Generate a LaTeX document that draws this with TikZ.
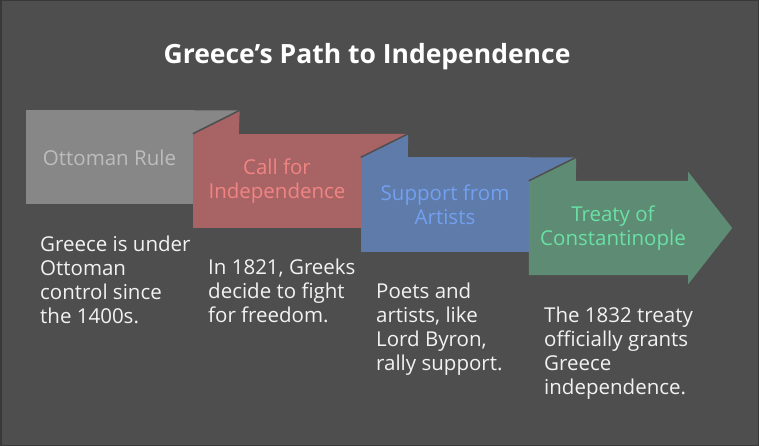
\documentclass[tikz,border=0pt]{standalone}
\usepackage{fontspec}
\setmainfont{Open Sans}
\usetikzlibrary{calc,backgrounds}

\definecolor{bgcol}{HTML}{4E4E4E}
\definecolor{edgecol}{HTML}{383838}
\definecolor{grayfill}{HTML}{878787}
\definecolor{graytext}{HTML}{BDBDBD}
\definecolor{redfill}{HTML}{A86464}
\definecolor{redtext}{HTML}{F08484}
\definecolor{bluefill}{HTML}{5F7BA9}
\definecolor{bluetext}{HTML}{72A0F0}
\definecolor{greenfill}{HTML}{5E8B73}
\definecolor{greentext}{HTML}{6AE0A6}
\definecolor{desctext}{HTML}{F2F2F2}

\begin{document}
\begin{tikzpicture}[x=1pt,y=-1pt,
	stepbox/.style={rectangle, minimum width=168pt, minimum height=94pt, inner sep=0pt, align=center, font=\fontsize{20.5}{24}\selectfont},
	desc/.style={anchor=north west, inner sep=0pt, align=left, text=desctext, font=\fontsize{20.5}{24}\selectfont}]
	\begin{pgfonlayer}{background}
		\fill[bgcol] (0,0) rectangle (759,446);
		\draw[edgecol, line width=1.5pt] (0.75,0.75) rectangle (758.25,445.25);
	\end{pgfonlayer}
	\useasboundingbox (0,0) rectangle (759,446);

	\node (title) at (367,57) [text=white, font=\bfseries\fontsize{26.5}{30}\selectfont] {Greece's Path to Independence};

	% steps
	\node (ottoman) at (109.5,157.5) [stepbox, fill=grayfill, text=graytext] {Ottoman Rule};
	\node (call) at (277,181) [stepbox, fill=redfill, text=redtext] {Call for\\Independence};
	\node (artists) at (445,204.5) [stepbox, fill=bluefill, text=bluetext] {Support from\\Artists};
	\node (treaty) at (613,228) [stepbox, text=greentext] {Treaty of\\Constantinople};
	\begin{pgfonlayer}{background}
		\fill[greenfill] (treaty.north west) -- ($(treaty.north east)+(-9,0)$) -- ($(treaty.north east)+(-9,-9)$)
			-- ($(treaty.east)+(35,0)$) -- ($(treaty.south east)+(-9,9)$) -- ($(treaty.south east)+(-9,0)$)
			-- (treaty.south west) -- cycle;
	\end{pgfonlayer}

	% folds
	\fill[grayfill] (ottoman.north east) -- ++(46,0) -- (call.north west) -- cycle;
	\fill[redfill] (call.north west) -- ($(ottoman.north east)+(46,0)$) -- ($(call.north west)+(46,0)$) -- cycle;
	\draw[bgcol, line width=1.5pt] (call.north west) -- ($(ottoman.north east)+(46,0)$);
	\fill[redfill] (call.north east) -- ++(47,0) -- (artists.north west) -- cycle;
	\fill[bluefill] (artists.north west) -- ($(call.north east)+(47,0)$) -- ($(artists.north west)+(47,0)$) -- cycle;
	\draw[bgcol, line width=1.5pt] (artists.north west) -- ($(call.north east)+(47,0)$);
	\fill[bluefill] (artists.north east) -- ++(47,0) -- (treaty.north west) -- cycle;
	\fill[greenfill] (treaty.north west) -- ($(artists.north east)+(47,0)$) -- ($(treaty.north west)+(47,0)$) -- cycle;
	\draw[bgcol, line width=1.5pt] (treaty.north west) -- ($(artists.north east)+(47,0)$);

	% descriptions
	\node (ottomandesc) at (40,236) [desc] {Greece is under\\Ottoman\\control since\\the 1400s.};
	\node (calldesc) at (208,259) [desc] {In 1821, Greeks\\decide to fight\\for freedom.};
	\node (artistsdesc) at (376,283) [desc] {Poets and\\artists, like\\Lord Byron,\\rally support.};
	\node (treatydesc) at (544,307) [desc] {The 1832 treaty\\officially grants\\Greece\\independence.};
\end{tikzpicture}
\end{document}
